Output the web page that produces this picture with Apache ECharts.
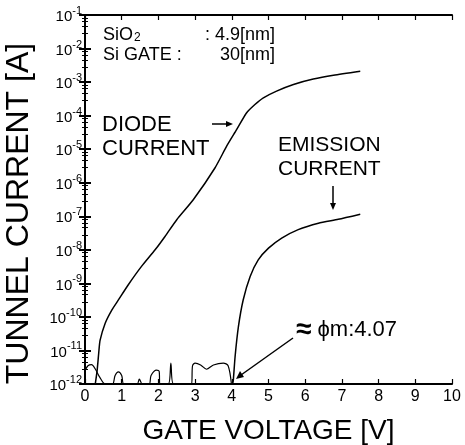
<!DOCTYPE html>
<html>
<head>
<meta charset="utf-8">
<title>Tunnel current vs gate voltage</title>
<script src="https://cdn.jsdelivr.net/npm/echarts@6/dist/echarts.min.js"></script>
<style>
  html, body { margin: 0; padding: 0; background: #fff; }
  #chart { width: 465px; height: 445px; }
</style>
</head>
<body>
<div id="chart"></div>
<script>
// Tunnel current vs gate voltage (log scale), diode + emission current.
// Values.

var FONT = "'Liberation Sans', Arial, Helvetica, sans-serif";

// diode current [V, A]
var diodeV = [0.28, 0.33, 0.38, 0.41, 0.55, 0.73, 0.91, 1.18, 1.54, 1.91, 2.18, 2.50, 2.95,
              3.54, 3.86, 4.13, 4.40, 4.63, 4.86, 5.22, 5.68, 6.22, 6.77, 7.50];
var diodeI = [1e-12, 2.5e-12, 1.0e-11, 2.0e-11, 6.5e-11, 1.6e-10, 3.2e-10, 9.1e-10, 3.2e-9, 1.0e-8,
              2.5e-8, 7.9e-8, 3.1e-7, 2.75e-6, 1.23e-5, 3.8e-5, 1.2e-4, 2.14e-4, 3.4e-4, 5.4e-4,
              8.5e-4, 1.23e-3, 1.6e-3, 2.1e-3];

// emission current [V, A]
var emisV = [4.02, 4.04, 4.09, 4.18, 4.31, 4.50, 4.72, 5.00, 5.36, 5.81, 6.36, 6.90, 7.50];
var emisI = [1e-12, 1.26e-12, 6.6e-12, 5.1e-11, 3.2e-10, 1.6e-9, 5.0e-9, 1.12e-8, 2.24e-8,
             4.0e-8, 6.2e-8, 8.1e-8, 1.15e-7];

// measurement floor noise below 4 V
var noiseV = [0.0, 0.08, 0.18, 0.28, 0.40, 0.55, 0.75, 0.82, 0.91, 1.00, 1.06, 1.42, 1.48, 1.56,
              1.75, 1.80, 1.95, 2.02, 2.04, 2.27, 2.34, 2.41, 2.90, 2.93, 3.00, 3.15, 3.31, 3.50,
              3.77, 3.90, 3.99];
var noiseI = [2.5e-12, 3.5e-12, 3.8e-12, 2.8e-12, 1.6e-12, 1e-12, 1e-12, 1.8e-12, 2.3e-12, 1.8e-12,
              1e-12, 1e-12, 1.4e-12, 1e-12, 1e-12, 1.8e-12, 2.6e-12, 2.4e-12, 1e-12, 1e-12,
              4.2e-12, 1e-12, 1e-12, 3.5e-12, 4.2e-12, 3.7e-12, 2.75e-12, 3.7e-12, 4.2e-12,
              3.5e-12, 1e-12];

var xTicks = [0, 1, 2, 3, 4, 5, 6, 7, 8, 9, 10];
var yMin = 1e-12, yMax = 1e-1;

function pairs(xs, ys) {
  return xs.map(function (x, i) { return [x, ys[i]]; });
}

function expLabel(v) {
  var e = Math.round(Math.log(v) / Math.LN10);
  return "{b|10}{s|" + e + "}";
}

var chart = echarts.init(document.getElementById("chart"), null, { renderer: "canvas" });

var axisLine = { show: true, lineStyle: { color: "#000", width: 2 } };

function txt(x, y, rich, text, size) {
  return { type: "text", x: x, y: y,
           style: { text: text, font: size + "px " + FONT, fill: "#000", rich: rich || {} } };
}

var subRich = {
  n: { fontSize: 18, fontFamily: FONT, lineHeight: 22, verticalAlign: "bottom" },
  u: { fontSize: 12, fontFamily: FONT, lineHeight: 22, verticalAlign: "bottom", padding: [0, 0, 0, 1] }
};

var phiRich = {
  a: { fontSize: 28, fontFamily: FONT, fontWeight: "bold", lineHeight: 26 },
  p: { fontSize: 22, fontFamily: FONT, lineHeight: 26 }
};

chart.setOption({
  animation: false,
  backgroundColor: "#fff",
  grid: { left: 85, right: 13, top: 15, bottom: 61, containLabel: false, outerBoundsMode: "none" },
  xAxis: [
    {
      type: "value", min: 0, max: 10, interval: 1,
      axisLine: axisLine,
      axisTick: { inside: true, length: 5, lineStyle: { color: "#000", width: 1.2 } },
      axisLabel: { margin: 5, color: "#000", fontFamily: FONT, fontSize: 16,
                   formatter: function (v) { return xTicks.indexOf(v) >= 0 ? String(v) : ""; } },
      splitLine: { show: false },
      name: "GATE VOLTAGE [V]",
      nameLocation: "middle", nameGap: 33,
      nameTextStyle: { color: "#000", fontFamily: FONT, fontSize: 28 }
    },
    {
      type: "value", position: "top", min: 0, max: 10, interval: 1,
      axisLine: axisLine,
      axisTick: { inside: true, length: 5, lineStyle: { color: "#000", width: 1.2 } },
      axisLabel: { show: false },
      splitLine: { show: false }
    }
  ],
  yAxis: [
    {
      type: "log", logBase: 10, min: yMin, max: yMax, interval: 1,
      axisLine: axisLine,
      axisTick: { inside: true, length: 6, lineStyle: { color: "#000", width: 2 } },
      minorTick: { show: true, splitNumber: 5, length: 3, lineStyle: { color: "#000", width: 1 } },
      axisLabel: {
        margin: 3, color: "#000", fontFamily: FONT,
        formatter: expLabel,
        rich: {
          b: { fontSize: 15, fontFamily: FONT, color: "#000", lineHeight: 19, verticalAlign: "bottom" },
          s: { fontSize: 11, fontFamily: FONT, color: "#000", lineHeight: 19, verticalAlign: "top" }
        }
      },
      splitLine: { show: false },
      name: "TUNNEL CURRENT [A]",
      nameLocation: "middle", nameGap: 50, nameRotate: 90,
      nameTextStyle: { color: "#000", fontFamily: FONT, fontSize: 32, padding: [0, 28, 0, 0] }
    },
    {
      type: "log", logBase: 10, min: yMin, max: yMax, interval: 1, position: "right",
      axisLine: axisLine,
      axisTick: { inside: true, length: 6, lineStyle: { color: "#000", width: 2 } },
      minorTick: { show: true, splitNumber: 5, length: 3, lineStyle: { color: "#000", width: 1 } },
      axisLabel: { show: false },
      splitLine: { show: false }
    }
  ],
  series: [
    {
      name: "Diode", type: "line", showSymbol: false, smooth: 0.2,
      lineStyle: { color: "#000", width: 1.5 },
      data: pairs(diodeV, diodeI)
    },
    {
      name: "Emission", type: "line", showSymbol: false, smooth: 0.2,
      lineStyle: { color: "#000", width: 1.5 },
      data: pairs(emisV, emisI)
    },
    {
      name: "Noise", type: "line", showSymbol: false, smooth: 0.3,
      lineStyle: { color: "#000", width: 1.2 },
      data: pairs(noiseV, noiseI)
    }
  ],
  graphic: [
    txt(103, 22, subRich, "{n|SiO}{u|2}", 18),
    { type: "text", right: 190, top: 26, style: { text: ": 4.9[nm]", font: "18px " + FONT, fill: "#000" } },
    txt(103, 46, null, "Si GATE :", 18),
    { type: "text", right: 190, top: 46, style: { text: "30[nm]", font: "18px " + FONT, fill: "#000" } },

    txt(102, 114, null, "DIODE", 22),
    txt(102, 138, null, "CURRENT", 22),
    { type: "line", shape: { x1: 212, y1: 124, x2: 228, y2: 124 }, style: { stroke: "#000", lineWidth: 1.5 } },
    { type: "polygon", shape: { points: [[233, 124], [226, 121], [226, 127]] }, style: { fill: "#000" } },

    txt(278, 135, null, "EMISSION", 21),
    txt(278, 159, null, "CURRENT", 21),
    { type: "line", shape: { x1: 333, y1: 186, x2: 333, y2: 204 }, style: { stroke: "#000", lineWidth: 1.5 } },
    { type: "polygon", shape: { points: [[333, 210], [330, 203], [336, 203]] }, style: { fill: "#000" } },

    txt(296, 317, phiRich, "{a|≈} {p|ϕm:4.07}", 22),
    { type: "line", shape: { x1: 293, y1: 338, x2: 241, y2: 375 }, style: { stroke: "#000", lineWidth: 1.5 } },
    { type: "polygon", shape: { points: [[236, 379], [240, 371], [244, 377]] }, style: { fill: "#000" } }
  ]
});
</script>
</body>
</html>
